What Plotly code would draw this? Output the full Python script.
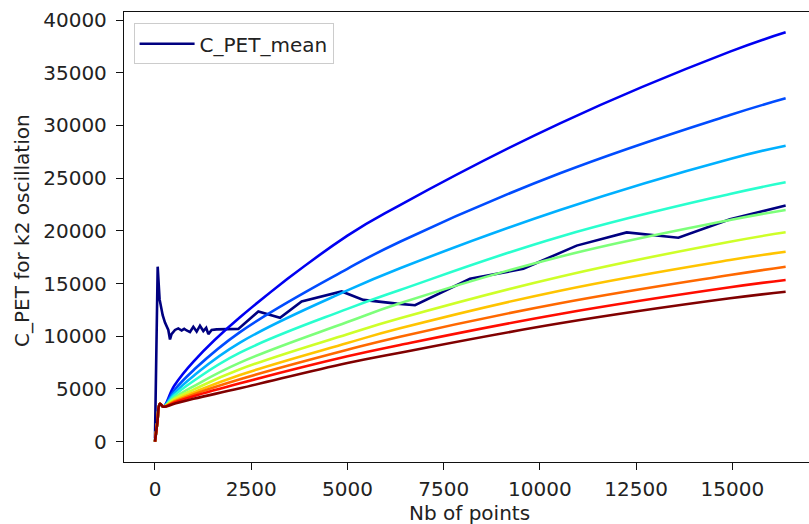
import plotly.graph_objects as go

# ---- data ----
x_pts = [0, 60, 130, 216, 500, 1000, 2208, 5000, 6365, 10522, 14939, 16384]

curves = [
    [0, 1800, 3600, 3320, 5300, 7600, 11800, 19540, 22450, 30200, 37000, 38835],
    [0, 1800, 3600, 3320, 4880, 6780, 10400, 16400, 18970, 25460, 30990, 32574],
    [0, 1800, 3600, 3320, 4600, 6240, 9400, 14350, 16450, 21980, 26820, 28078],
    [0, 1800, 3600, 3320, 4380, 5760, 8450, 12600, 14390, 19450, 23500, 24606],
    [0, 1800, 3600, 3320, 4160, 5250, 7500, 11350, 13130, 17550, 21030, 21979],
    [0, 1800, 3600, 3320, 4030, 4940, 6870, 10200, 11705, 15650, 18970, 19863],
    [0, 1800, 3600, 3320, 3900, 4670, 6330, 9360, 10755, 14325, 17235, 18023],
    [0, 1800, 3600, 3320, 3790, 4490, 5920, 8715, 9960, 13130, 15810, 16600],
    [0, 1800, 3600, 3320, 3700, 4310, 5540, 8100, 9175, 12115, 14645, 15339],
    [0, 1800, 3600, 3320, 3600, 4070, 5065, 7465, 8445, 11230, 13600, 14229],
]

colors = ["#0000f1", "#004cff", "#00b0ff", "#29ffce", "#7dff7a",
          "#ceff29", "#ffc400", "#ff6800", "#ff0d00", "#800000"]

mean_x = [0, 70, 120, 200, 260, 300, 346, 390, 430, 520, 606, 693, 760, 823,
          909, 996, 1083, 1169, 1256, 1330, 1386, 1472, 1600, 2165, 2685, 3248,
          3810, 4850, 5413, 6280, 6755, 8184, 9570, 10955, 12255, 13597, 14939, 16384]
mean_y = [300, 16600, 13500, 12000, 11300, 10900, 10600, 9700, 10200, 10600,
          10750, 10550, 10700, 10550, 10400, 10900, 10450, 11000, 10500, 10800,
          10200, 10600, 10650, 10700, 12350, 11750, 13300, 14250, 13450, 13100,
          12950, 15450, 16400, 18600, 19850, 19350, 21100, 22400]

x_ticks = [0, 2500, 5000, 7500, 10000, 12500, 15000]
y_ticks = [0, 5000, 10000, 15000, 20000, 25000, 30000, 35000, 40000]

FONT = "DejaVu Sans"
FS = 20
TXT = "#222"
fig = go.Figure()

fig.add_trace(go.Scatter(x=mean_x, y=mean_y, mode="lines", name="C_PET_mean",
                         line=dict(color="#000080", width=2.6)))
for ys, c in zip(curves, colors):
    fig.add_trace(go.Scatter(x=x_pts, y=ys, mode="lines", showlegend=False,
                             line=dict(color=c, width=2.6, shape="spline", smoothing=1.2)))

fig.update_layout(
    width=809, height=524,
    margin=dict(l=124, r=0, t=12, b=62),
    paper_bgcolor="white", plot_bgcolor="white",
    font=dict(family=FONT, size=FS, color=TXT),
    showlegend=True,
    legend=dict(x=0.014, y=0.975, xanchor="left", yanchor="top",
                bgcolor="rgba(255,255,255,0.8)", bordercolor="#cccccc", borderwidth=1,
                font=dict(family=FONT, size=FS, color=TXT),
                itemwidth=55, tracegroupgap=0),
    xaxis=dict(range=[-805, 16991], tickvals=x_ticks,
               ticktext=[str(v) for v in x_ticks],
               showgrid=False, zeroline=False, showline=True, linecolor="#111",
               linewidth=1.3, mirror=True, ticks="outside", ticklen=7,
               tickcolor="#111", tickwidth=1.3, ticklabelstandoff=2,
               tickfont=dict(family=FONT, size=FS, color=TXT)),
    yaxis=dict(range=[-1926, 40760], tickvals=y_ticks,
               ticktext=[str(v) for v in y_ticks],
               showgrid=False, zeroline=False, showline=True, linecolor="#111",
               linewidth=1.3, mirror=False, ticks="outside", ticklen=7,
               tickcolor="#111", tickwidth=1.3, ticklabelstandoff=5,
               tickfont=dict(family=FONT, size=FS, color=TXT)),
    annotations=[
        dict(text="Nb of points", xref="paper", yref="paper",
             x=(469.7 - 124) / 685, y=(462 - 513) / 450,
             xanchor="center", yanchor="middle", showarrow=False,
             font=dict(family=FONT, size=FS, color=TXT)),
        dict(text="C_PET for k2 oscillation", xref="paper", yref="paper",
             x=(22 - 124) / 685, y=(462 - 231) / 450, textangle=-90,
             xanchor="center", yanchor="middle", showarrow=False,
             font=dict(family=FONT, size=FS, color=TXT)),
    ],
)

fig.write_html("out.html")
